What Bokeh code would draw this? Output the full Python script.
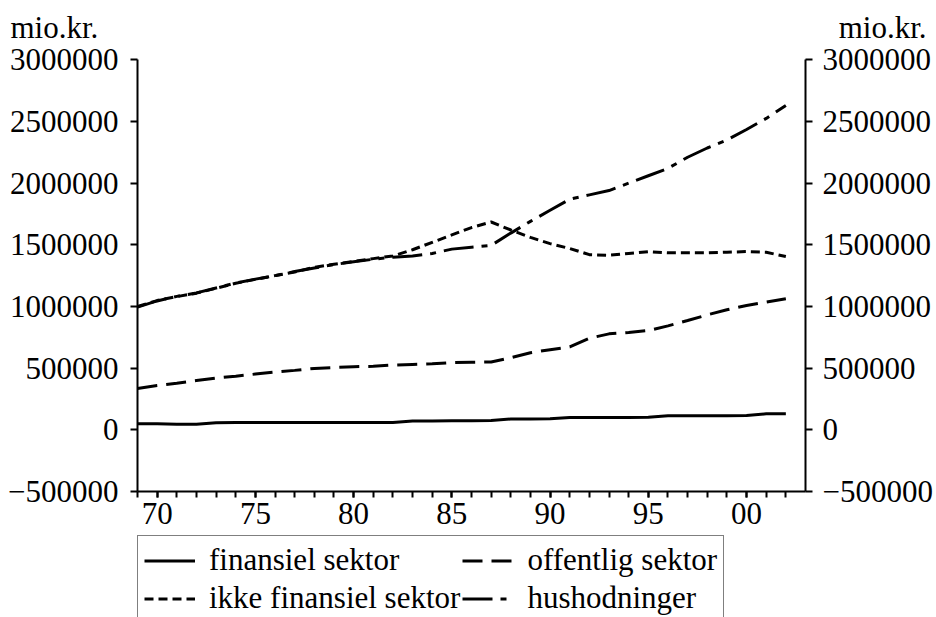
from bokeh.plotting import figure
from bokeh.models import (Range1d, LinearAxis, FixedTicker, BasicTickFormatter,
                          Legend, LegendItem, ColumnDataSource, Label)
from bokeh.embed import file_html
from bokeh.resources import INLINE

years = list(range(1969, 2003))
finansiel = [50000, 50000, 45000, 45000, 58000, 60000, 60000, 60000, 60000, 60000,
             60000, 60000, 60000, 60000, 72000, 72000, 73000, 73000, 75000, 88000,
             88000, 90000, 100000, 100000, 100000, 100000, 102000, 115000, 115000, 115000,
             115000, 117000, 130000, 130000]
offentlig = [335000, 360000, 378000, 400000, 420000, 435000, 452000, 468000, 482000, 498000,
             505000, 512000, 515000, 525000, 530000, 535000, 545000, 548000, 550000, 585000,
             625000, 650000, 672000, 743000, 778000, 789000, 805000, 843000, 886000, 932000,
             973000, 1008000, 1035000, 1062000]
ikke_finansiel = [1000000, 1048000, 1080000, 1108000, 1148000, 1188000, 1220000, 1250000, 1280000, 1318000,
                  1342000, 1365000, 1388000, 1410000, 1460000, 1520000, 1580000, 1640000, 1685000, 1620000,
                  1560000, 1510000, 1470000, 1420000, 1415000, 1430000, 1445000, 1435000, 1435000, 1435000,
                  1440000, 1445000, 1440000, 1405000]
hushodninger = [995000, 1045000, 1082000, 1110000, 1150000, 1190000, 1222000, 1250000, 1283000, 1312000,
                1340000, 1362000, 1383000, 1400000, 1410000, 1430000, 1465000, 1480000, 1495000, 1595000,
                1690000, 1780000, 1870000, 1905000, 1940000, 2000000, 2060000, 2120000, 2210000, 2285000,
                2350000, 2435000, 2525000, 2630000]

series_names = ["finansiel sektor", "offentlig sektor", "ikke finansiel sektor", "hushodninger"]
label_years = [1970, 1975, 1980, 1985, 1990, 1995, 2000]
x_tick_labels = ["70", "75", "80", "85", "90", "95", "00"]
y_ticks = [-500000, 0, 500000, 1000000, 1500000, 2000000, 2500000, 3000000]
unit_label = "mio.kr."

FONT = "Liberation Serif"
FS = "31px"

W, H = 936, 617
# plot-area geometry (pixels) and the axis extents it maps to
AX_L, AX_R, AX_T, AX_B = 137.0, 805.0, 59.3, 491.0
X0, X1 = 1969, 2003
Y0, Y1 = -500000, 3000000
px_x = (X1 - X0) / (AX_R - AX_L)
px_y = (Y1 - Y0) / (AX_B - AX_T)
x_range = Range1d(X0 - AX_L * px_x, X1 + (W - AX_R) * px_x)
y_range = Range1d(Y0 - (H - AX_B) * px_y, Y1 + AX_T * px_y)

src = ColumnDataSource(dict(year=years, fin=finansiel, off=offentlig,
                            ikke=ikke_finansiel, hus=hushodninger))

p = figure(width=W, height=H, output_backend="svg", toolbar_location=None,
           x_range=x_range, y_range=y_range, min_border=0,
           background_fill_color="white", border_fill_color="white",
           outline_line_color=None)
p.grid.visible = False

r1 = p.line("year", "fin", source=src, line_color="black", line_width=3)
r2 = p.line("year", "off", source=src, line_color="black", line_width=3, line_dash="20 9")
r3 = p.line("year", "ikke", source=src, line_color="black", line_width=3, line_dash="9 5")
r4 = p.line("year", "hus", source=src, line_color="black", line_width=3, line_dash="30 8 6 8")

def style_axis(ax):
    ax.axis_line_color = "black"
    ax.axis_line_width = 2
    ax.major_tick_line_color = "black"
    ax.major_tick_line_width = 2
    ax.minor_tick_line_color = "black"
    ax.minor_tick_line_width = 2
    ax.major_label_text_font = FONT
    ax.major_label_text_font_size = FS
    ax.major_label_text_color = "black"

# x axis (drawn at the -500000 level)
xa = p.xaxis[0]
xa.ticker = FixedTicker(ticks=label_years, minor_ticks=years)
xa.major_label_overrides = {y: lab for y, lab in zip(label_years, x_tick_labels)}
style_axis(xa)
xa.fixed_location = Y0
xa.bounds = (X0, X1)
xa.major_tick_out = 6
xa.major_tick_in = 0
xa.minor_tick_out = 6
xa.minor_tick_in = 0
xa.major_label_standoff = 5

# left y axis
ya = p.yaxis[0]
ya.ticker = FixedTicker(ticks=y_ticks)
ya.formatter = BasicTickFormatter(use_scientific=False)
style_axis(ya)
ya.fixed_location = X0
ya.bounds = (Y0, Y1)
ya.major_tick_out = 7
ya.major_tick_in = 0
ya.minor_tick_out = 0
ya.minor_tick_in = 0
ya.major_label_standoff = 12

# right y axis
yr = LinearAxis(ticker=FixedTicker(ticks=y_ticks),
                formatter=BasicTickFormatter(use_scientific=False))
style_axis(yr)
yr.fixed_location = X1
yr.bounds = (Y0, Y1)
yr.major_tick_out = 7
yr.major_tick_in = 0
yr.minor_tick_out = 0
yr.minor_tick_in = 0
yr.major_label_standoff = 10
p.add_layout(yr, "right")

# unit labels above the two value axes
p.add_layout(Label(x=X0, y=Y1, x_offset=-127, y_offset=32, text=unit_label,
                   text_font=FONT, text_font_size=FS, text_align="left",
                   text_baseline="alphabetic", text_color="black"))
p.add_layout(Label(x=X1, y=Y1, x_offset=121, y_offset=32, text=unit_label,
                   text_font=FONT, text_font_size=FS, text_align="right",
                   text_baseline="alphabetic", text_color="black"))

legend = Legend(items=[LegendItem(label=series_names[0], renderers=[r1]),
                       LegendItem(label=series_names[1], renderers=[r2]),
                       LegendItem(label=series_names[2], renderers=[r3]),
                       LegendItem(label=series_names[3], renderers=[r4])],
                orientation="horizontal", ncols=2, location=(137, -6),
                label_text_font=FONT, label_text_font_size=FS, label_text_color="black",
                glyph_width=51, glyph_height=33, label_height=33, label_standoff=14,
                spacing=2, padding=6, margin=0,
                border_line_color="black", border_line_width=1.5,
                background_fill_color="white", background_fill_alpha=1)
p.add_layout(legend, "center")

open("out.html", "w").write(file_html(p, INLINE))
